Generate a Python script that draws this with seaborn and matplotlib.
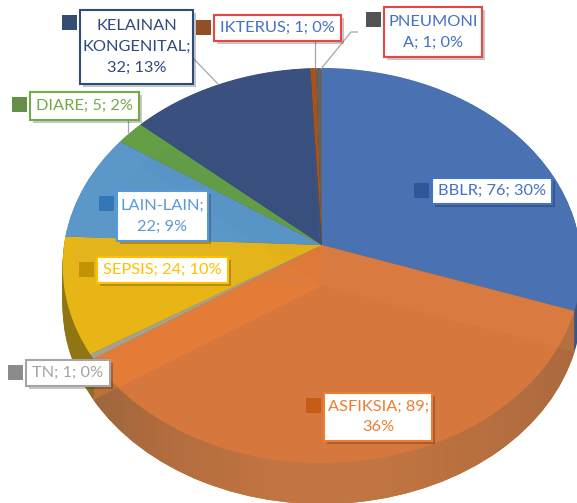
import numpy as np
import matplotlib
matplotlib.use("Agg")
import matplotlib.pyplot as plt
from matplotlib.patches import Rectangle, Circle
from matplotlib.transforms import Transform
from matplotlib.colors import LinearSegmentedColormap
import seaborn as sns

categories = ["BBLR", "ASFIKSIA", "TN", "SEPSIS", "LAIN-LAIN", "DIARE",
              "KELAINAN KONGENITAL", "IKTERUS", "PNEUMONIA"]
values = [76, 89, 1, 24, 22, 5, 32, 1, 1]
percents = [30, 36, 0, 10, 9, 2, 13, 0, 0]
label_texts = ["BBLR; 76; 30%", "ASFIKSIA; 89;\n36%", "TN; 1; 0%", "SEPSIS; 24; 10%",
               "LAIN-LAIN;\n22; 9%", "DIARE; 5; 2%", "KELAINAN\nKONGENITAL;\n32; 13%",
               "IKTERUS; 1; 0%", "PNEUMONI\nA; 1; 0%"]
top_colors = ["#4a72b2", "#e47b38", "#a5a093", "#e8b517", "#5b97c9", "#659f45",
              "#3a5180", "#a85416", "#636363"]
side_colors = ["#36537f", "#bd7039", "#8a6a30", "#8f7512", "#3f6d92", "#48722f",
               "#2a3b5c", "#6e3a10", "#444444"]
under_colors = ["#4a72b2", "#b07050", "#e47b38", "#e8b517", "#5b97c9", "#659f45",
                "#2f4d7d", "#a85416", "#636363"]
under_alpha = [0.07, 0.25, 0.02, 0.02, 0.03, 0.02, 0.03, 0.02, 0.02]
key_colors = ["#2f5597", "#c55a11", "#7f7f7f", "#bf9000", "#2e75b6", "#548235",
              "#1f3864", "#843c0c", "#404040"]
text_colors = ["#4472c4", "#ed7d31", "#a5a5a5", "#ffc000", "#5b9bd5", "#70ad47",
               "#2f4b7c", "#4472c4", "#4472c4"]
border_colors = ["#4472c4", "#ed7d31", "#a5a5a5", "#ffc000", "#5b9bd5", "#70ad47",
                 "#2f4b7c", "#e84545", "#e84545"]
# label boxes in picture pixels: x0, y0, x1, y1
boxes = [(432, 178, 552, 204), (324, 393, 432, 441), (26, 360, 110, 386),
         (97, 257, 228, 283), (117, 191, 208, 241), (30, 92, 139, 120),
         (80, 10, 193, 84), (214, 15, 341, 41), (384, 7, 482, 57)]
leaders = [([193, 218], [58, 84]), ([128, 128], [120, 133]), ([315, 315], [41, 68]),
           ([358, 351, 321], [32, 32, 69])]

CX, CY, RX, RY, PERSP, DEPTH = 322.0, 245.0, 258.0, 195.4, 0.1038, 41.0


class Tilt(Transform):
    input_dims = 2
    output_dims = 2
    has_inverse = False
    is_separable = False

    def __init__(self, shift=0.0):
        super().__init__()
        self.shift = shift

    def transform_non_affine(self, values):
        v = np.asarray(values, dtype=float)
        w = 1 + PERSP * v[:, 1]
        return np.column_stack([CX + RX * v[:, 0] / w,
                                CY + self.shift - RY * v[:, 1] / w])


sns.set_theme(style="white")
plt.rcParams["font.family"] = ["Lato", "DejaVu Sans"]

fig = plt.figure(figsize=(5.77, 5.03), dpi=100, facecolor="white")
ax = fig.add_axes([0, 0, 1, 1])


def draw_pie(colors, shift, z, alpha=None):
    wedges, _ = ax.pie(values, colors=sns.color_palette(colors), startangle=90,
                       counterclock=False, wedgeprops=dict(linewidth=0))
    for i, w in enumerate(wedges):
        w.set_transform(Tilt(shift) + ax.transData)
        w.set_zorder(z)
        w.set_linewidth(0)
        if alpha is not None:
            w.set_alpha(alpha[i])
    return wedges


# side wall: stacked copies from the floor up to the top face
bottom = None
for k, s in enumerate(np.linspace(DEPTH, 0.5, 28)):
    ws = draw_pie(side_colors, s, 1 + k * 0.001)
    if k == 0:
        bottom = ws

# horizontal shading of the front wall
shade = LinearSegmentedColormap.from_list(
    "wall", ["#8c6038", "#b46c3a", "#c8783c", "#c8783c", "#bb703a", "#a8663a"])
grad = np.linspace(0, 1, 256).reshape(1, -1)
im = ax.imshow(grad, cmap=shade, extent=(60, 590, 503, 300), aspect="auto", zorder=1.5)
im.set_clip_path(bottom[1])

# top face
top = draw_pie(top_colors, 0, 2)
face = Circle((0, 0), 1, transform=Tilt(0) + ax.transData)

# floor of the pie seen through the translucent top face
under = draw_pie(under_colors, DEPTH, 3, alpha=under_alpha)
for w in under:
    w.set_clip_path(face)

ax.set_aspect("auto")
ax.set_xlim(0, 577)
ax.set_ylim(503, 0)
ax.axis("off")

# leader lines
for xs, ys in leaders:
    ax.plot(xs, ys, color="#a6a6a6", lw=0.9, zorder=4, solid_capstyle="butt")

# labels
for i, (x0, y0, x1, y1) in enumerate(boxes):
    ax.add_patch(Rectangle((x0 + 3, y0 + 3), x1 - x0, y1 - y0, fc="#000000", alpha=0.22,
                           ec="none", zorder=5))
    ax.add_patch(Rectangle((x0, y0), x1 - x0, y1 - y0, fc="white", ec=border_colors[i],
                           lw=1.5, zorder=6))
    ax.add_patch(Rectangle((x0 - 18, y0 + 5), 15, 15, fc=key_colors[i], ec="none",
                           alpha=0.9, zorder=6))
    ax.text((x0 + x1) / 2, (y0 + y1) / 2, label_texts[i], color=text_colors[i], ha="center",
            va="center", fontsize=11.8, linespacing=1.62, zorder=7)

fig.savefig("out.png", dpi=100, facecolor="white")
